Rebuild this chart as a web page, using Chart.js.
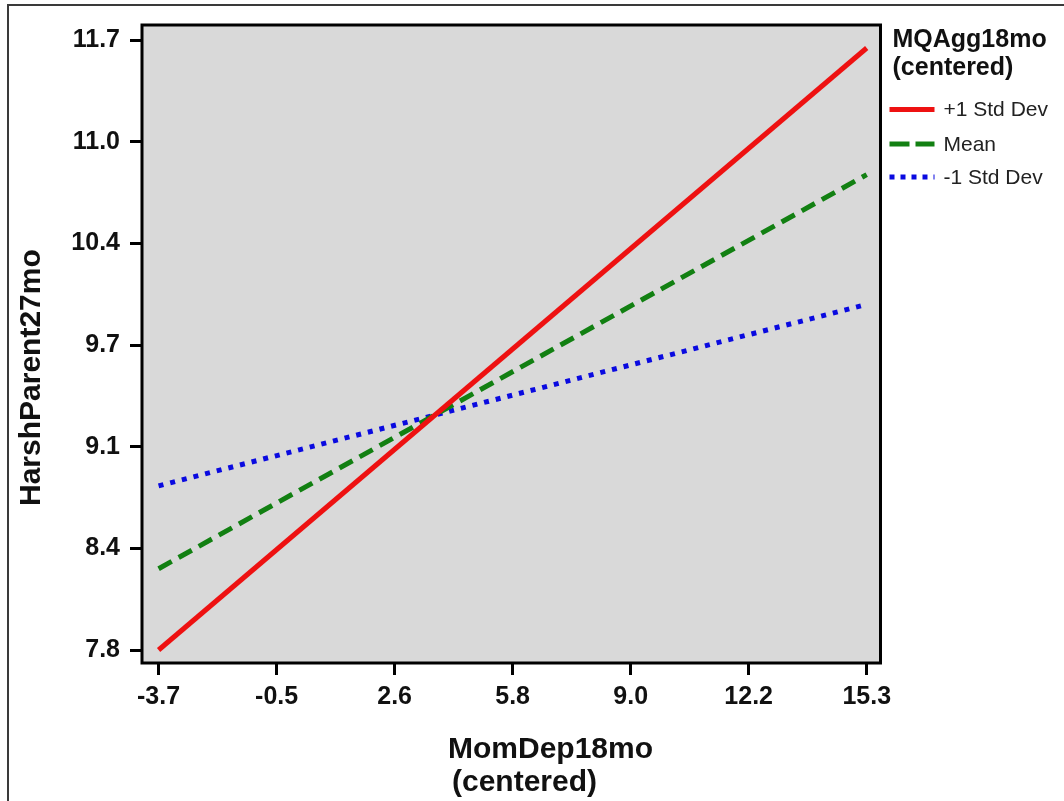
<!DOCTYPE html>
<html><head><meta charset="utf-8">
<script src="https://cdn.jsdelivr.net/npm/chart.js@4.4.1/dist/chart.umd.min.js"></script>
<style>
html,body{margin:0;padding:0;background:#fff;overflow:hidden;}
#wrap{position:relative;width:1064px;height:801px;}
#frame{position:absolute;left:7px;top:4px;width:2000px;height:2000px;border:2px solid #3a3a3a;}
canvas{position:absolute;left:0;top:0;}
</style></head><body>
<div id="wrap"><div id="frame"></div><canvas id="c" width="1064" height="801"></canvas></div>
<script>
// ---- data ----
const xValues = [-3.7, 15.3];
const plus1SD = [7.80, 11.65];
const meanVals = [8.32, 10.84];
const minus1SD = [8.85, 10.01];
const seriesNames = ['+1 Std Dev', 'Mean', '-1 Std Dev'];
const xTickValues = [-3.7, -0.533, 2.633, 5.8, 8.967, 12.133, 15.3];
const xTickLabels = ['-3.7', '-0.5', '2.6', '5.8', '9.0', '12.2', '15.3'];
const yTickValues = [7.8, 8.45, 9.1, 9.75, 10.4, 11.05, 11.7];
const yTickLabels = ['7.8', '8.4', '9.1', '9.7', '10.4', '11.0', '11.7'];
const xTitle = ['MomDep18mo', '(centered)'];
const yTitle = 'HarshParent27mo';
const legendTitle = ['MQAgg18mo', '(centered)'];

const FONT = "'Liberation Sans', Arial, sans-serif";
const toPts = (ys) => xValues.map((x, i) => ({x: x, y: ys[i]}));

const plotBg = {
  id: 'plotBg',
  beforeDraw(chart) {
    const {ctx, chartArea: a} = chart;
    ctx.save();
    ctx.fillStyle = '#d9d9d9';
    ctx.fillRect(a.left, a.top, a.right - a.left, a.bottom - a.top);
    ctx.restore();
  },
  afterDraw(chart) {
    const {ctx, chartArea: a} = chart;
    ctx.save();
    ctx.strokeStyle = '#000';
    ctx.lineWidth = 3;
    ctx.strokeRect(a.left, a.top, a.right - a.left, a.bottom - a.top);
    ctx.restore();
  }
};

const axisTitles = {
  id: 'axisTitles',
  afterDraw(chart) {
    const {ctx} = chart;
    ctx.save();
    ctx.fillStyle = '#111';
    ctx.font = 'bold 30px ' + FONT;
    ctx.textAlign = 'left';
    ctx.textBaseline = 'middle';
    ctx.fillText(xTitle[0], 448, 750);
    ctx.fillText(xTitle[1], 452, 783);
    ctx.translate(32, 506);
    ctx.rotate(-Math.PI / 2);
    ctx.fillText(yTitle, 0, 0);
    ctx.restore();
  }
};

const sideLegend = {
  id: 'sideLegend',
  afterDraw(chart) {
    const {ctx} = chart;
    const x0 = chart.chartArea.right + 9;
    ctx.save();
    ctx.fillStyle = '#111';
    ctx.textBaseline = 'alphabetic';
    ctx.textAlign = 'left';
    ctx.font = 'bold 25px ' + FONT;
    ctx.fillText(legendTitle[0], x0 + 3, 47);
    ctx.fillText(legendTitle[1], x0 + 3, 75);
    const rowY = [109.5, 144, 177];
    chart.data.datasets.forEach((ds, i) => {
      const y = rowY[i];
      ctx.save();
      ctx.strokeStyle = ds.borderColor;
      ctx.lineWidth = ds.borderWidth;
      ctx.setLineDash(ds.legendDash || []);
      ctx.beginPath();
      ctx.moveTo(x0, y);
      ctx.lineTo(x0 + 45, y);
      ctx.stroke();
      ctx.restore();
      ctx.fillStyle = '#222';
      ctx.font = '21px ' + FONT;
      ctx.textBaseline = 'middle';
      ctx.fillText(ds.label, x0 + 54, y + 1);
    });
    ctx.restore();
  }
};

new Chart(document.getElementById('c'), {
  type: 'line',
  data: {
    datasets: [
      {label: seriesNames[0], data: toPts(plus1SD), borderColor: '#ee1111', borderWidth: 5, borderDash: [], legendDash: []},
      {label: seriesNames[1], data: toPts(meanVals), borderColor: '#128012', borderWidth: 5, borderDash: [15, 8], legendDash: [20, 6]},
      {label: seriesNames[2], data: toPts(minus1SD), borderColor: '#0a0ae0', borderWidth: 5, borderDash: [5, 7], legendDash: [5, 6]}
    ]
  },
  options: {
    responsive: false,
    animation: false,
    devicePixelRatio: 1,
    layout: {padding: {left: 0, top: 21.5, right: 183.5, bottom: 0}},
    elements: {point: {radius: 0}, line: {tension: 0, borderCapStyle: 'butt'}},
    plugins: {legend: {display: false}, tooltip: {enabled: false}},
    scales: {
      x: {
        type: 'linear',
        min: -4.145,
        max: 15.67,
        afterBuildTicks: (s) => { s.ticks = xTickValues.map(v => ({value: v})); },
        afterFit: (s) => { s.height = 138; },
        border: {display: false},
        grid: {display: true, drawOnChartArea: false, drawTicks: true, tickLength: 12, tickWidth: 3, tickColor: '#000'},
        ticks: {padding: 7, color: '#111', font: {family: FONT, size: 25, weight: 'bold'}, maxRotation: 0, autoSkip: false,
          callback: (v, i) => xTickLabels[i]},
        title: {display: false}
      },
      y: {
        type: 'linear',
        min: 7.717,
        max: 11.797,
        afterBuildTicks: (s) => { s.ticks = yTickValues.map(v => ({value: v})); },
        afterFit: (s) => { s.width = 142; },
        border: {display: false},
        grid: {display: true, drawOnChartArea: false, drawTicks: true, tickLength: 12, tickWidth: 3, tickColor: '#000'},
        ticks: {padding: 10, color: '#111', font: {family: FONT, size: 25, weight: 'bold'}, autoSkip: false,
          callback: (v, i) => yTickLabels[i]},
        title: {display: false}
      }
    }
  },
  plugins: [plotBg, axisTitles, sideLegend]
});
</script>
</body></html>
